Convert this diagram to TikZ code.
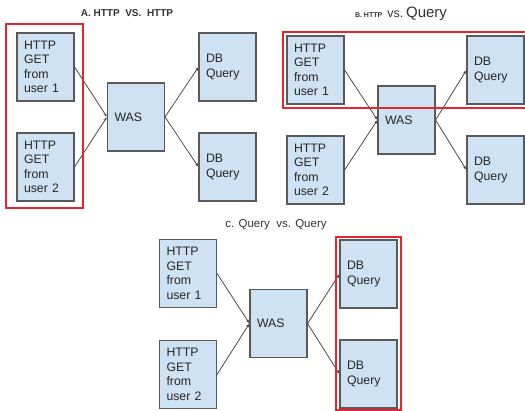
\documentclass[tikz,border=0pt]{standalone}
\usepackage{fontspec}
\setmainfont{Liberation Sans}
\usetikzlibrary{arrows.meta}
\definecolor{boxfill}{HTML}{CFE2F3}
\definecolor{boxline}{HTML}{5A5A5A}
\definecolor{linkcol}{HTML}{4A4A4A}
\definecolor{hilite}{HTML}{E8242E}
\tikzset{
  block/.style={draw=boxline, fill=boxfill, line width=1.1pt, rectangle,
    minimum width=57pt, minimum height=68pt, text width=43pt,
    inner xsep=7pt, inner ysep=0pt, align=left, anchor=center,
    font=\fontsize{12.3}{14.5}\selectfont, text=black!85},
  link/.style={draw=linkcol, line width=0.8pt, -{Stealth[length=3.5pt,width=3pt]}, shorten >=0.5pt},
  mark box/.style={draw=hilite, line width=1.6pt},
  caption/.style={text=black!80, inner sep=0pt}
}
\begin{document}
\begin{tikzpicture}[x=1pt,y=-1pt]
\useasboundingbox (0,0) rectangle (525,411);

% ---- A: HTTP vs. HTTP ----
\node[caption, font=\fontsize{10}{11}\bfseries\selectfont] (ta) at (127,13) {A. HTTP\ \ VS.\ \ HTTP};
\node[block] (a1) at (45.5,67) {HTTP\\GET\\from\\user 1};
\node[block] (a2) at (45.5,167) {HTTP\\GET\\from\\user 2};
\node[block] (aw) at (136,117) {WAS};
\node[block] (ad1) at (227.5,67) {DB\\Query};
\node[block] (ad2) at (227.5,167) {DB\\Query};
\draw[link] (a1.east) -- (aw.west);
\draw[link] (a2.east) -- (aw.west);
\draw[link] (aw.east) -- (ad1.west);
\draw[link] (aw.east) -- (ad2.west);
\draw[mark box] (6,24) rectangle (83,208);

% ---- B: HTTP vs. Query ----
\node[caption] (tb) at (401,14) {{\fontsize{7}{8}\bfseries\selectfont B. HTTP}\,{\fontsize{12.5}{13}\selectfont\ vs.}\ {\fontsize{15}{16}\selectfont Query}};
\node[block] (b1) at (315.5,70) {HTTP\\GET\\from\\user 1};
\node[block] (b2) at (315.5,170) {HTTP\\GET\\from\\user 2};
\node[block] (bw) at (406.5,120) {WAS};
\node[block] (bd1) at (495.5,70) {DB\\Query};
\node[block] (bd2) at (495.5,170) {DB\\Query};
\draw[link] (b1.east) -- (bw.west);
\draw[link] (b2.east) -- (bw.west);
\draw[link] (bw.east) -- (bd1.west);
\draw[link] (bw.east) -- (bd2.west);
\draw[mark box] (526,32) -- (283,32) -- (283,108) -- (526,108);

% ---- C: Query vs. Query ----
\node[caption, font=\fontsize{11.5}{12}\selectfont] (tc) at (276,225) {c. Query\ \ vs. Query};
\node[block] (c1) at (188,273.5) {HTTP\\GET\\from\\user 1};
\node[block] (c2) at (188,374.5) {HTTP\\GET\\from\\user 2};
\node[block] (cw) at (278.5,323.5) {WAS};
\node[block] (cd1) at (368.5,274) {DB\\Query};
\node[block] (cd2) at (368.5,374) {DB\\Query};
\draw[link] (c1.east) -- (cw.west);
\draw[link] (c2.east) -- (cw.west);
\draw[link] (cw.east) -- (cd1.west);
\draw[link] (cw.east) -- (cd2.west);
\draw[mark box] (336,237) rectangle (401,410);
\end{tikzpicture}
\end{document}
